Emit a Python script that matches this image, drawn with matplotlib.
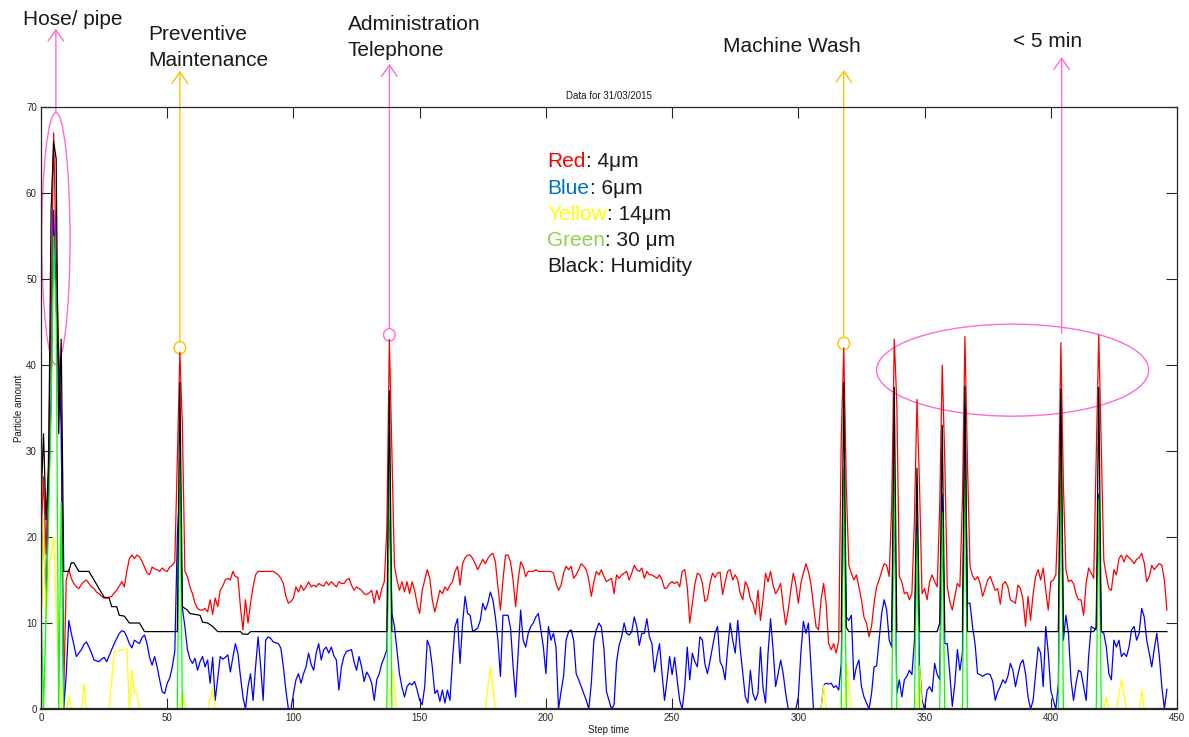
import numpy as np
import matplotlib.pyplot as plt
from matplotlib.patches import Ellipse

plt.rcParams['font.family'] = ['Liberation Sans', 'DejaVu Sans']

W, H = 1189, 737

# 4 um particle counts, one value per step
red = [
    20, 27, 18, 30, 46, 67, 53, 42, 34, 2,
    15, 16.2, 15.2, 14.6, 14.2, 14.0, 14.5, 14.8, 15.0, 14.6,
    14.2, 14.0, 13.6, 13.4, 13.1, 12.9, 12.9, 13.0, 13.1, 13.5,
    13.8, 14.3, 14.8, 14.2, 16.0, 17.5, 17.9, 17.5, 17.9, 17.7,
    17.2, 16.5, 15.8, 15.6, 16.5, 16.3, 16.2, 16.0, 16.4, 16.1,
    16.0, 16.5, 16.7, 17.1, 29, 41.5, 33, 16.0, 15.4, 14.2,
    13.4, 12.3, 11.7, 11.5, 11.5, 11.7, 11.3, 12.7, 11.0, 12.9,
    11.9, 13.8, 14.3, 15.0, 15.2, 15.0, 16.0, 15.4, 15.3, 11.9,
    9.2, 12.7, 10.0, 12.3, 14.2, 15.6, 16.0, 16.0, 16.0, 16.0,
    16.0, 16.0, 16.0, 15.8, 15.6, 15.2, 14.6, 13.1, 12.3, 12.5,
    12.9, 14.2, 13.6, 14.4, 13.8, 14.2, 14.8, 14.2, 14.4, 14.2,
    14.6, 14.4, 14.3, 14.8, 14.4, 14.8, 14.5, 14.2, 14.8, 14.6,
    14.6, 15.0, 15.2, 14.4, 13.8, 14.2, 14.0, 13.8, 13.4, 13.3,
    13.5, 13.8, 12.3, 13.8, 12.7, 14.0, 14.8, 21, 43, 30,
    16.6, 15.0, 13.8, 14.8, 13.6, 14.8, 13.4, 14.8, 13.8, 12.2,
    11.1, 13.8, 15.0, 16.2, 15.2, 12.7, 11.3, 12.5, 13.8, 13.4,
    14.2, 13.8, 14.4, 14.8, 16.0, 16.6, 14.4, 16.9, 17.6, 17.9,
    17.9, 17.5, 16.9, 16.2, 16.8, 17.4, 16.9, 17.5, 17.9, 18.1,
    17.1, 14.2, 11.5, 15.0, 17.9, 17.9, 17.1, 15.0, 11.9, 15.0,
    17.1, 16.6, 15.4, 16.0, 16.0, 16.0, 16.2, 16.0, 16.0, 16.0,
    16.0, 16.0, 16.0, 15.8, 14.6, 13.8, 14.4, 15.8, 16.6, 16.2,
    16.6, 15.2, 15.6, 16.2, 16.9, 16.6, 16.2, 15.0, 13.1, 14.8,
    16.0, 15.6, 16.2, 15.4, 14.8, 15.0, 15.2, 13.4, 15.6, 15.2,
    15.6, 15.8, 16.0, 15.0, 15.8, 16.7, 16.2, 16.0, 16.4, 15.2,
    16.0, 15.6, 15.6, 15.4, 15.2, 15.6, 15.0, 14.0, 14.1, 14.6,
    14.8, 14.6, 14.8, 14.2, 16.0, 16.2, 14.2, 10.0, 12.3, 14.5,
    15.8, 15.6, 14.6, 12.5, 12.8, 14.6, 15.8, 15.3, 15.8, 15.9,
    13.3, 14.8, 16.0, 16.2, 15.0, 15.6, 15.0, 13.4, 12.7, 14.8,
    14.2, 12.8, 12.3, 11.0, 13.8, 10.3, 12.7, 15.8, 14.8, 16.0,
    14.4, 13.4, 13.9, 14.6, 12.0, 9.8, 11.5, 13.8, 15.8, 14.5,
    12.3, 14.6, 15.8, 16.9, 16.0, 14.5, 12.0, 9.6, 9.2, 12.7,
    14.6, 12.3, 7.6, 6.9, 7.6, 6.5, 8.0, 31.5, 42, 26,
    16.7, 15.8, 15.0, 15.6, 14.2, 12.7, 10.7, 10.0, 8.4, 9.6,
    12.3, 14.2, 15.0, 16.0, 16.9, 16.7, 15.4, 24, 43, 35.6,
    15.4, 14.8, 13.4, 13.6, 12.7, 13.5, 22, 36, 26, 13.4,
    14.0, 12.7, 14.8, 15.6, 14.8, 14.2, 23.5, 40, 29, 14.2,
    12.5, 11.5, 13.1, 14.6, 14.2, 24.3, 43.3, 28.6, 16.6, 15.5,
    15.0, 15.4, 14.6, 13.1, 14.0, 15.0, 15.4, 14.6, 13.8, 14.0,
    12.2, 14.5, 14.8, 14.2, 12.7, 12.5, 12.3, 14.4, 14.0, 12.7,
    9.6, 13.1, 10.3, 13.4, 15.4, 16.2, 15.0, 16.4, 13.8, 11.5,
    14.8, 15.0, 15.6, 23.5, 42.6, 26, 16.2, 14.8, 15.0, 14.6,
    13.4, 12.7, 12.7, 10.9, 14.6, 16.4, 15.8, 15.2, 29.3, 43.5,
    30.5, 17.3, 15.5, 14.0, 13.8, 16.2, 15.6, 17.5, 17.9, 17.1,
    17.9, 17.6, 17.3, 16.9, 17.4, 17.6, 18.1, 17.0, 14.8, 15.4,
    16.7, 16.2, 16.6, 16.9, 16.7, 15.0, 11.5,
]

# 6 um particle counts, one value per step
blue = [
    10, 22, 12, 25, 36, 58, 47, 40, 33, 0,
    4, 10.3, 8.8, 7.5, 6.1, 6.5, 6.9, 7.5, 7.8, 7.2,
    6.5, 5.7, 5.6, 5.5, 5.8, 6.0, 5.5, 6.2, 6.9, 7.6,
    8.2, 8.8, 9.1, 9.0, 8.4, 7.6, 7.1, 8.0, 7.8, 7.6,
    8.3, 8.6, 7.6, 6.0, 5.1, 6.1, 4.9, 3.4, 2.0, 1.8,
    3.0, 3.6, 4.9, 6.7, 20, 26, 11.7, 9.6, 6.9, 5.8,
    5.3, 5.9, 4.5, 5.5, 6.1, 4.9, 5.7, 3.0, 6.0, 1.0,
    3.5, 6.1, 5.8, 6.0, 6.3, 4.3, 6.0, 7.6, 6.5, 3.8,
    1.4, 0, 2.6, 4.1, 1.0, 4.9, 8.4, 5.0, 1.0, 8.0,
    8.4, 8.2, 7.8, 7.7, 7.6, 7.1, 4.9, 2.2, 0, 0,
    1.8, 3.4, 4.1, 3.0, 4.1, 4.9, 6.5, 5.2, 4.5, 6.5,
    7.6, 5.7, 6.9, 7.2, 6.5, 7.2, 6.2, 5.7, 2.2, 4.9,
    6.1, 6.7, 6.8, 6.9, 5.5, 4.5, 6.1, 4.9, 3.2, 4.3,
    3.8, 3.0, 1.0, 3.4, 4.1, 5.3, 6.0, 6.9, 25, 11.1,
    9.6, 6.9, 4.1, 2.5, 1.4, 2.6, 3.0, 2.8, 3.2, 2.2,
    1.0, 0.5, 2.6, 8.0, 7.2, 4.9, 1.8, 2.2, 0.9, 2.2,
    0.7, 2.2, 1.0, 5.7, 9.6, 10.5, 5.3, 10.0, 13.1, 11.1,
    10.9, 9.0, 9.2, 9.4, 10.3, 12.3, 11.5, 12.3, 13.6, 12.7,
    10.7, 8.0, 3.8, 10.9, 10.9, 10.9, 9.4, 5.0, 1.4, 6.5,
    11.5, 8.0, 7.2, 8.8, 9.6, 10.0, 10.7, 11.1, 9.2, 7.2,
    4.1, 9.6, 8.0, 8.8, 7.2, 0, 2.0, 3.8, 8.0, 9.0,
    9.2, 8.0, 4.1, 3.4, 2.6, 1.8, 1.0, 0, 3.0, 8.0,
    9.2, 10.0, 9.5, 7.0, 2.0, 1.0, 0, 0.5, 5.5, 7.4,
    8.4, 10.0, 8.8, 8.6, 9.0, 10.7, 9.6, 7.4, 8.8, 8.8,
    10.5, 8.4, 7.6, 4.3, 6.1, 7.6, 4.1, 1.0, 3.4, 6.1,
    4.0, 6.0, 3.4, 1.0, 0, 2.6, 7.2, 3.4, 6.5, 5.5,
    4.9, 8.4, 8.0, 5.2, 4.1, 5.6, 7.2, 8.8, 9.6, 5.5,
    4.9, 3.4, 7.0, 10.0, 8.0, 6.5, 10.3, 6.9, 4.1, 1.4,
    0.7, 4.5, 1.8, 1.0, 1.8, 7.2, 2.5, 0.7, 6.5, 10.5,
    6.9, 2.6, 4.1, 5.7, 4.1, 1.8, 0, 0, 0, 0,
    1.4, 6.5, 10.2, 8.8, 10.0, 4.9, 0, 0, 0, 0,
    2.8, 3.0, 2.9, 3.0, 2.5, 2.7, 2.2, 5.3, 27, 10.7,
    10.3, 10.9, 3.4, 4.9, 5.7, 2.6, 1.4, 0.7, 0, 1.8,
    4.9, 5.0, 8.0, 11.1, 12.7, 11.5, 8.0, 7.2, 28, 1.8,
    3.4, 1.4, 3.4, 3.8, 4.5, 4.0, 8.0, 22, 5.0, 1.0,
    0, 2.2, 2.6, 2.0, 5.3, 4.0, 3.4, 25, 7.6, 7.6,
    4.1, 0.3, 3.0, 6.9, 4.5, 6.5, 35, 12.3, 12.3, 9.6,
    7.6, 4.1, 4.0, 3.8, 4.0, 4.1, 4.0, 3.2, 1.0, 2.0,
    2.6, 3.4, 3.0, 3.8, 5.3, 4.5, 2.6, 4.0, 5.3, 5.7,
    4.1, 1.4, 0, 1.0, 4.1, 7.2, 6.5, 2.6, 9.6, 6.5,
    2.2, 1.0, 0, 3.0, 31.4, 8.0, 10.9, 8.8, 3.4, 1.0,
    3.0, 4.5, 4.3, 2.6, 1.0, 6.1, 9.6, 9.4, 9.2, 25,
    9.0, 8.8, 7.2, 4.1, 3.4, 8.0, 7.2, 8.0, 6.1, 6.5,
    6.1, 7.2, 9.2, 9.6, 8.0, 8.8, 11.7, 10.7, 8.0, 6.5,
    4.9, 7.0, 8.8, 6.1, 2.6, 0, 2.3,
]

# 14 um counts: zero except where listed (step, value)
yellow_x = [0, 1, 2, 3, 4, 5, 6, 7, 8, 10, 11, 12, 16, 17, 18,
            27, 29, 31, 33, 34, 35, 36, 37, 38, 39, 55, 56, 57, 66, 68, 69,
            138, 139, 141, 176, 178, 180, 309, 310, 311, 318, 319, 320, 321,
            347, 348, 349, 421, 422, 423, 426, 428, 430, 435, 436, 437, 446]
yellow_y = [8, 22, 10, 16, 18, 20, 12, 5, 0, 0, 1.5, 0, 0, 3, 0,
            0, 6.6, 6.8, 6.9, 7.0, 0, 4.5, 2, 1.8, 0, 0, 2, 0, 0, 2.4, 0,
            0, 4.7, 0, 0, 4.9, 0, 0, 2.8, 0, 0, 5.3, 2.5, 0,
            0, 5, 0, 0, 1.4, 0, 0, 3.4, 0, 0, 2.2, 0, 0]

# 30 um counts
green_x = [0, 1, 2, 3, 4, 5, 6, 7, 8, 9, 54, 55, 56, 137, 138, 139,
           317, 318, 319, 337, 338, 339, 346, 347, 348, 356, 357, 358,
           365, 366, 367, 403, 404, 405, 418, 419, 420, 446]
green_y = [12.5, 0, 11, 22, 35, 55, 46, 0, 24, 0, 0, 29, 0, 0, 30, 0,
           0, 27.9, 0, 0, 29.6, 0, 0, 20.5, 0, 0, 22.9, 0,
           0, 28.7, 0, 0, 29.9, 0, 0, 24.4, 0, 0]

# humidity, stepwise
black_x = [0, 1, 2, 3, 4, 5, 6, 7, 8, 9, 10, 11, 12, 13, 14, 15, 19, 21, 23,
           25, 27, 28, 30, 31, 33, 35, 39, 41, 54, 55, 56, 58, 59, 63, 64, 66,
           68, 70, 79, 80, 82, 83, 137, 138, 139, 317, 318, 319, 320,
           337, 338, 339, 346, 347, 348, 355, 356, 357, 358, 365, 366, 367,
           403, 404, 405, 417, 418, 419, 420, 446]
black_y = [24, 32, 22, 28, 58, 66, 64, 32, 43, 16, 16, 16, 17, 17, 16.5, 16, 16, 15, 14,
           13, 12.9, 11.9, 11.9, 10.9, 10.8, 10, 10, 9, 9, 38, 11.9, 11.5, 11.1, 10.9, 10.1, 10,
           9.6, 9, 9, 8.7, 8.7, 9, 9, 37, 9, 9, 38, 9.5, 9,
           9, 37.4, 9, 9, 28, 9, 9, 10, 33, 9, 9, 37.5, 9,
           9, 37.2, 9, 9, 9.5, 37.4, 9, 9]

legend_rows = [("Red", "#ff0000", ": 4\u03bcm"),
               ("Blue", "#0070c0", ": 6\u03bcm"),
               ("Yellow", "#ffff00", ": 14\u03bcm"),
               ("Green", "#92d050", ": 30 \u03bcm"),
               ("Black", "#1a1a1a", ": Humidity")]

PINK = "#ff6ad5"
ORANGE = "#ffc000"
TXT = "#1a1a1a"

fig = plt.figure(figsize=(W / 100, H / 100), dpi=100)
ax = fig.add_axes([41 / W, 1 - 709 / H, (1177 - 41) / W, (709 - 107) / H])

steps = np.arange(len(red))
ax.plot(steps, red, color="#ff0000", lw=0.9)
ax.plot(steps, blue, color="#0000ff", lw=0.9)
ax.plot(yellow_x, yellow_y, color="#ffff00", lw=0.9)
ax.plot(green_x, green_y, color="#00ff00", lw=0.9)
ax.plot(black_x, black_y, color="#000000", lw=0.9)

ax.set_xlim(0, 450)
ax.set_ylim(0, 70)
ax.set_xticks(np.arange(0, 451, 50))
ax.set_yticks(np.arange(0, 71, 10))
ax.tick_params(direction="in", top=True, right=True, length=8, width=0.8,
               labelsize=7, pad=3, colors="#262626")
for s in ax.spines.values():
    s.set_color("#262626")
    s.set_linewidth(0.9)
    s.set_zorder(3)
# zero-level traces sit under the bottom axis line
ax.spines["bottom"].set_linewidth(1.6)
ax.set_title("Data for 31/03/2015", fontsize=7, pad=6, color=TXT)
ax.set_xlabel("Step time", fontsize=7, labelpad=1, color=TXT)
ax.set_ylabel("Particle amount", fontsize=7, labelpad=1.5, color=TXT)


def arrow_up(x, y0, y1, color):
    ax.annotate("", xy=(x, y1), xytext=(x, y0), annotation_clip=False,
                arrowprops=dict(arrowstyle="->,head_length=0.4,head_width=0.28",
                                color=color, lw=1.0, shrinkA=0, shrinkB=0,
                                mutation_scale=20))


def ring(x, y, w, h, color):
    ax.add_patch(Ellipse((x, y), w, h, fill=False, edgecolor=color, lw=1.0,
                         clip_on=False))


# hose burst at the start
ring(5.9, 54.7, 11.2, 29.3, PINK)
arrow_up(5.9, 69.35, 79.1, PINK)

# single events marked at the 4 um peak
for step, color, tip in [(55, ORANGE, 74.2), (138, PINK, 75.0), (318, ORANGE, 74.3)]:
    cy = red[step] + 0.5
    ring(step, cy, 4.6, 1.45, color)
    arrow_up(step, cy + 0.72, tip, color)

# repeated washes less than 5 min apart
ring(384.9, 39.4, 107.8, 10.7, PINK)
arrow_up(404.3, 43.7, 75.8, PINK)


def ftext(x, y, s, **kw):
    return fig.text(x / W, 1 - y / H, s, fontsize=15, va="baseline", color=TXT, **kw)


ftext(23, 25, "Hose/ pipe")
ftext(148, 39.5, "Preventive")
ftext(148, 65.5, "Maintenance")
ftext(348, 30, "Administration")
ftext(348, 56.5, "Telephone")
ftext(723, 52.5, "Machine Wash")
ftext(1013, 47, "< 5 min")

renderer = fig.canvas.get_renderer()
for i, (word, color, rest) in enumerate(legend_rows):
    y = 167.3 + i * 26.3
    t = ftext(547.5, y, word)
    t.set_color(color)
    bb = t.get_window_extent(renderer)
    ftext(bb.x1, y, rest)

fig.savefig("out.png", dpi=100)
